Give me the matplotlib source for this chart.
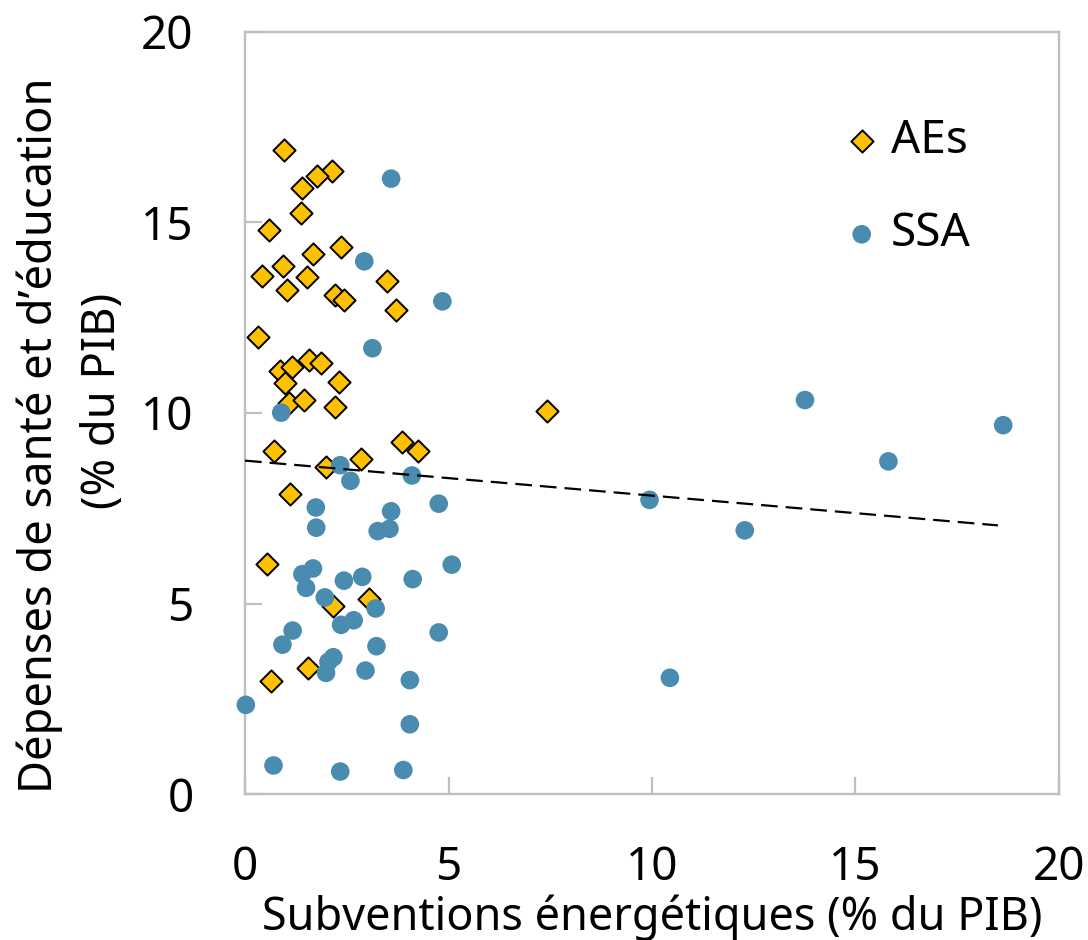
import numpy as np
import matplotlib
matplotlib.use("Agg")
import matplotlib.pyplot as plt

plt.rcParams['font.family'] = ['Noto Sans', 'DejaVu Sans']

# AEs (diamonds)
ae_x = [0.96, 2.14, 1.76, 1.40, 1.37, 0.58, 2.36, 1.68, 0.94, 0.42,
        1.52, 1.04, 3.48, 2.20, 2.44, 3.72, 0.31, 0.85, 1.16, 1.56,
        1.86, 0.98, 2.31, 1.07, 1.44, 2.20, 7.41, 3.86, 4.25, 0.72,
        2.86, 1.99, 1.10, 0.55, 2.16, 3.04, 1.54, 0.63]
ae_y = [16.91, 16.34, 16.22, 15.91, 15.24, 14.80, 14.36, 14.17, 13.86, 13.59,
        13.58, 13.22, 13.47, 13.10, 12.96, 12.71, 12.00, 11.09, 11.21, 11.40,
        11.32, 10.80, 10.81, 10.25, 10.33, 10.15, 10.05, 9.24, 8.99, 9.01,
        8.78, 8.59, 7.88, 6.04, 4.93, 5.12, 3.31, 2.97]

# SSA (circles)
ssa_x = [3.59, 2.93, 4.85, 3.13, 0.89, 2.34, 2.59, 4.10, 1.74, 3.59,
         4.76, 1.75, 3.26, 3.55, 5.08, 1.67, 1.41, 1.50, 2.43, 2.88,
         4.12, 1.96, 3.21, 2.36, 2.67, 4.76, 1.17, 0.92, 3.23, 2.17,
         2.05, 1.99, 2.96, 4.05, 0.02, 4.05, 0.70, 2.34, 3.89, 9.94,
         12.28, 13.76, 15.81, 18.63, 10.44]
ssa_y = [16.15, 13.98, 12.93, 11.70, 10.01, 8.63, 8.22, 8.36, 7.52, 7.42,
         7.62, 6.99, 6.90, 6.96, 6.02, 5.92, 5.77, 5.41, 5.60, 5.70,
         5.64, 5.16, 4.87, 4.44, 4.56, 4.24, 4.29, 3.92, 3.88, 3.59,
         3.47, 3.18, 3.24, 2.99, 2.34, 1.83, 0.75, 0.59, 0.63, 7.72,
         6.92, 10.34, 8.73, 9.68, 3.05]

# trend line end points
trend_x = [0.0, 18.5]
trend_y = [8.75, 7.05]

ticks = [0, 5, 10, 15, 20]

gold = '#FFC000'
blue = '#4A8CAF'
grey = '#BFBFBF'
fs = 33

fig = plt.figure(figsize=(10.88, 9.40), dpi=100)
ax = fig.add_axes([0.2252, 0.1553, 0.7481, 0.8107])

ax.scatter(ae_x, ae_y, marker='D', s=11.3**2, facecolor=gold,
           edgecolor='black', linewidth=1.4, label='AEs', clip_on=False, zorder=3)
ax.scatter(ssa_x, ssa_y, marker='o', s=13.4**2, facecolor=blue,
           edgecolor='none', label='SSA', clip_on=False, zorder=4)
ax.plot(trend_x, trend_y, color='black', lw=1.6, ls=(0, (7.5, 3.6)), zorder=5)

ax.set_xlim(0, 20)
ax.set_ylim(0, 20)
ax.set_xticks(ticks)
ax.set_yticks(ticks)
ax.tick_params(direction='in', length=12, width=1.6, color=grey,
               labelsize=fs, pad=37)
for sp in ax.spines.values():
    sp.set_color(grey)
    sp.set_linewidth(1.7)

ax.set_xlabel('Subventions énergétiques (% du PIB)', fontsize=32.4, labelpad=2)
fig.text(40 / 1088, 1 - 435 / 940, "Dépenses de santé et d’éducation",
         rotation=90, ha='center', va='center', fontsize=32.6)
fig.text(103 / 1088, 1 - 401 / 940, '(% du PIB)',
         rotation=90, ha='center', va='center', fontsize=32.6)

ax.legend(loc='upper left', bbox_to_anchor=(0.707, 0.917), frameon=False,
          fontsize=fs, handletextpad=0.23, labelspacing=1.03,
          handlelength=0.8, borderpad=0)

fig.savefig('out.png', dpi=100)
